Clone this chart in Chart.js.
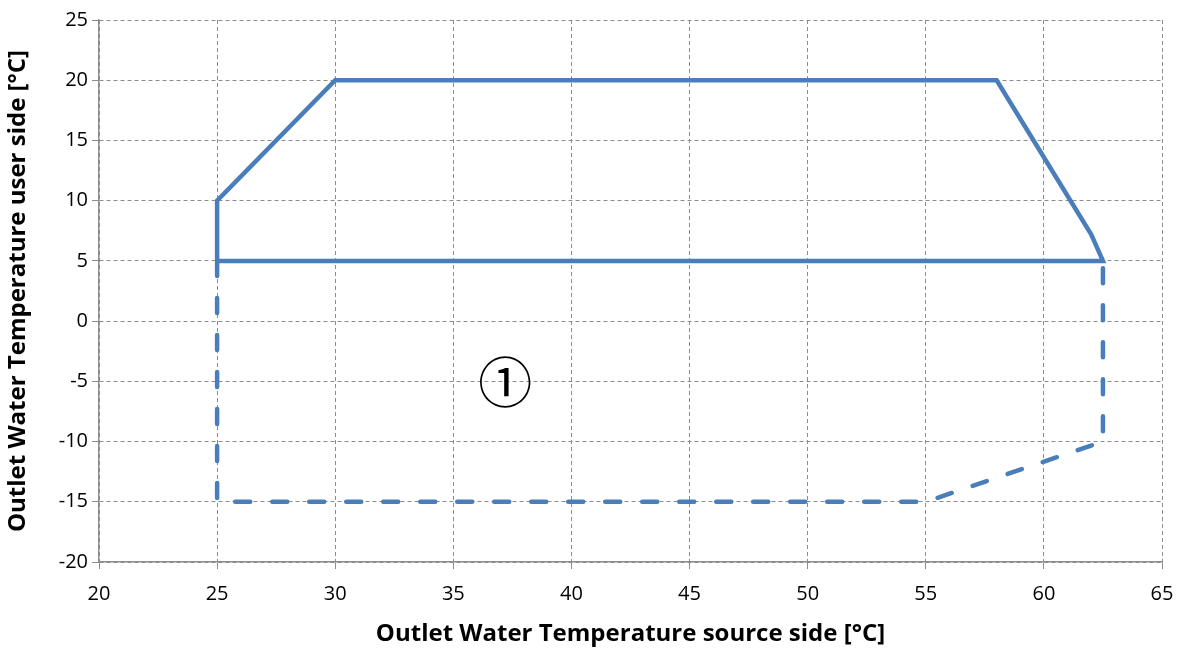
<!DOCTYPE html>
<html>
<head>
<meta charset="utf-8">
<script src="https://cdn.jsdelivr.net/npm/chart.js@4"></script>
<style>
  html, body { margin: 0; padding: 0; background: #fff; }
  #wrap { width: 1184px; height: 653px; }
</style>
</head>
<body>
<div id="wrap"><canvas id="chart"></canvas></div>
<script>
// envelope limits, [source side °C, user side °C]
const solidX = [25, 25, 30, 58, 62, 62.5, 25];
const solidY = [5, 10, 20, 20, 7.2, 5, 5];
const dashedX = [25, 25, 55, 62.5, 62.5];
const dashedY = [5, -15, -15, -10, 5];
const xTicks = [20, 25, 30, 35, 40, 45, 50, 55, 60, 65];
const yTicks = [-20, -15, -10, -5, 0, 5, 10, 15, 20, 25];
const zoneLabel = '①';
const zonePos = [37.2, -5.1];

const blue = '#4a7ebb';
const fontFam = '"Open Sans", "Liberation Sans", sans-serif';
const toPoints = (xs, ys) => xs.map((x, i) => ({ x: x, y: ys[i] }));

const zonePlugin = {
  id: 'zone',
  afterDatasetsDraw(chart) {
    const ctx = chart.ctx;
    const px = chart.scales.x.getPixelForValue(zonePos[0]);
    const py = chart.scales.y.getPixelForValue(zonePos[1]);
    ctx.save();
    ctx.fillStyle = '#000';
    ctx.font = '54px "Noto Sans CJK JP"';
    ctx.textAlign = 'center';
    ctx.textBaseline = 'middle';
    ctx.fillText(zoneLabel, px, py);
    ctx.restore();
  }
};

const gridOpts = {
  color: '#8c8c8c',
  lineWidth: 1,
  tickLength: 7,
  tickBorderDash: [],
  tickColor: '#8c8c8c'
};
const borderOpts = { display: true, color: '#8c8c8c', width: 1.5, dash: [4, 3] };

const ctx = document.getElementById('chart').getContext('2d');
new Chart(ctx, {
  type: 'scatter',
  data: {
    datasets: [{
      label: 'limit',
      data: toPoints(solidX, solidY),
      showLine: true,
      borderColor: blue,
      borderWidth: 4.5,
      pointRadius: 0,
      borderCapStyle: 'round',
      borderJoinStyle: 'miter',
      tension: 0
    }, {
      label: 'extended',
      data: toPoints(dashedX, dashedY),
      showLine: true,
      borderColor: blue,
      borderWidth: 4.5,
      borderDash: [15, 22],
      pointRadius: 0,
      borderCapStyle: 'round',
      tension: 0
    }]
  },
  options: {
    responsive: true,
    maintainAspectRatio: false,
    animation: false,
    layout: { padding: { top: 20, right: 22, left: 0, bottom: 0 } },
    plugins: {
      legend: { display: false },
      tooltip: { enabled: false }
    },
    scales: {
      x: {
        type: 'linear',
        min: 20,
        max: 65,
        afterBuildTicks: (scale) => { scale.ticks = xTicks.map(v => ({ value: v })); },
        afterFit: (scale) => {
          scale.height = 91;
          scale.paddingRight = 0;
          scale.paddingLeft = 0;
        },
        ticks: {
          color: '#000',
          font: { family: fontFam, size: 20 },
          padding: 13
        },
        grid: gridOpts,
        border: borderOpts,
        title: {
          display: true,
          text: 'Outlet Water Temperature source side [°C]',
          color: '#000',
          font: { family: fontFam, size: 24, weight: 'bold' },
          padding: { top: 0 }
        }
      },
      y: {
        type: 'linear',
        min: -20,
        max: 25,
        afterBuildTicks: (scale) => { scale.ticks = yTicks.map(v => ({ value: v })); },
        afterFit: (scale) => { scale.width = 99; },
        ticks: {
          color: '#000',
          font: { family: fontFam, size: 20 },
          padding: 4
        },
        grid: gridOpts,
        border: borderOpts,
        title: {
          display: true,
          text: 'Outlet Water Temperature user side [°C]',
          color: '#000',
          font: { family: fontFam, size: 24, weight: 'bold' },
          padding: { top: 4, bottom: 0 }
        }
      }
    }
  },
  plugins: [zonePlugin]
});
</script>
</body>
</html>
